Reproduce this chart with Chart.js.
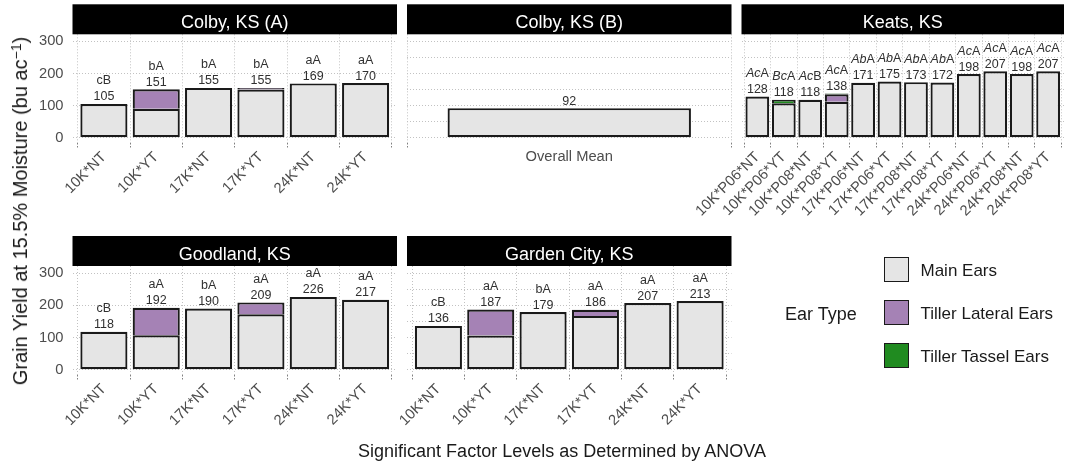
<!DOCTYPE html>
<html><head><meta charset="utf-8">
<script src="https://cdn.jsdelivr.net/npm/chart.js@4/dist/chart.umd.min.js"></script>
<style>
html,body{margin:0;padding:0;background:#fff;}
#wrap{position:relative;width:1065px;height:474px;overflow:hidden;font-family:'Liberation Sans',Arial,Helvetica,sans-serif;}
canvas{position:absolute;left:0;top:0;}
.t{position:absolute;white-space:nowrap;color:#1a1a1a;line-height:1;}
.key{position:absolute;width:23px;height:23px;border:1.5px solid #1a1a1a;}
sup{font-size:70%;vertical-align:0.45em;line-height:0;}
</style></head><body>
<div id="wrap">
<canvas id="cColbyA" width="1065" height="474"></canvas>
<canvas id="cColbyB" width="1065" height="474"></canvas>
<canvas id="cKeats" width="1065" height="474"></canvas>
<canvas id="cGoodland" width="1065" height="474"></canvas>
<canvas id="cGarden" width="1065" height="474"></canvas>
<div class="t" id="ytitle" style="left:20px;top:211px;font-size:20px;transform:translate(-50%,-50%) rotate(-90deg);">Grain Yield at 15.5% Moisture (bu ac<sup>−1</sup>)</div>
<div class="t" id="xtitle" style="left:562px;top:451px;font-size:18px;transform:translate(-50%,-50%);">Significant Factor Levels as Determined by ANOVA</div>
<div id="legend"></div>
</div>
<script>
// ---------- data ----------
const seriesNames = ['Main Ears', 'Tiller Lateral Ears', 'Tiller Tassel Ears'];
const legendTitle = 'Ear Type';

const cats6 = ['10K*NT', '10K*YT', '17K*NT', '17K*YT', '24K*NT', '24K*YT'];

const colbyA_main    = [105, 90, 155, 150, 169, 170];
const colbyA_lateral = [0, 61, 0, 5, 0, 0];
const colbyA_tassel  = [0, 0, 0, 0, 0, 0];
const colbyA_totals  = [105, 151, 155, 155, 169, 170];
const colbyA_letters = ['cB', 'bA', 'bA', 'bA', 'aA', 'aA'];

const colbyB_cats    = ['Overall Mean'];
const colbyB_main    = [92];
const colbyB_lateral = [0];
const colbyB_tassel  = [0];
const colbyB_totals  = [92];
const colbyB_letters = [''];

const keats_cats = ['10K*P06*NT', '10K*P06*YT', '10K*P08*NT', '10K*P08*YT',
                    '17K*P06*NT', '17K*P06*YT', '17K*P08*NT', '17K*P08*YT',
                    '24K*P06*NT', '24K*P06*YT', '24K*P08*NT', '24K*P08*YT'];
const keats_main    = [128, 107, 118, 112, 171, 175, 173, 172, 198, 207, 198, 207];
const keats_lateral = [0, 0, 0, 23, 0, 0, 0, 0, 0, 0, 0, 0];
const keats_tassel  = [0, 11, 0, 3, 0, 0, 0, 0, 0, 0, 0, 0];
const keats_totals  = [128, 118, 118, 138, 171, 175, 173, 172, 198, 207, 198, 207];
const keats_letters = ['AcA', 'BcA', 'AcB', 'AcA', 'AbA', 'AbA', 'AbA', 'AbA', 'AcA', 'AcA', 'AcA', 'AcA'];

const goodland_main    = [118, 107, 190, 172, 226, 217];
const goodland_lateral = [0, 85, 0, 37, 0, 0];
const goodland_tassel  = [0, 0, 0, 0, 0, 0];
const goodland_totals  = [118, 192, 190, 209, 226, 217];
const goodland_letters = ['cB', 'aA', 'bA', 'aA', 'aA', 'aA'];

const garden_main    = [136, 106, 179, 167, 207, 213];
const garden_lateral = [0, 81, 0, 19, 0, 0];
const garden_tassel  = [0, 0, 0, 0, 0, 0];
const garden_totals  = [136, 187, 179, 186, 207, 213];
const garden_letters = ['cB', 'aA', 'bA', 'aA', 'aA', 'aA'];

const yMajorTicks = [0, 100, 200, 300];
const yMinorTicks = [50, 150, 250];

// ---------- styles / layout ----------
const FONT = "'Liberation Sans', Arial, Helvetica, sans-serif";
const FILLS = ['#E5E5E5', '#A582B5', '#208B20'];
const EDGE = '#1a1a1a';
const GRID = '#c2c2c2';
const TICK = '#4d4d4d';
const BW = 2.2;
const COLS = [[72.5, 397], [407, 731.5], [741.5, 1064]];
const ROWS = [[34.3, 142.5], [266, 374.5]];
const Y_MIN = -15, Y_MAX = 322;
const STRIP_H = 30;

function drawLetters(ctx, s, x, y, nItalic) {
  const up = `12.5px ${FONT}`, it = `italic 12.5px ${FONT}`;
  if (!nItalic) { ctx.font = up; ctx.textAlign = 'center'; ctx.fillText(s, x, y); return; }
  const a = s.slice(0, nItalic), b = s.slice(nItalic);
  ctx.font = it; const w1 = ctx.measureText(a).width;
  ctx.font = up; const w2 = ctx.measureText(b).width;
  const x0 = x - (w1 + w2) / 2;
  ctx.textAlign = 'left';
  ctx.font = it; ctx.fillText(a, x0, y);
  ctx.font = up; ctx.fillText(b, x0 + w1, y);
}

const panelPlugin = {
  id: 'panel',
  afterDatasetsDraw(chart, args, o) {
    const ctx = chart.ctx, xs = chart.scales.x, ys = chart.scales.y;
    ctx.save();
    ctx.fillStyle = '#303030';
    ctx.textBaseline = 'alphabetic';
    o.totals.forEach((t, i) => {
      const x = xs.getPixelForValue(i + 1);
      const y = ys.getPixelForValue(t) - 3.5;
      ctx.font = `12.5px ${FONT}`;
      ctx.textAlign = 'center';
      ctx.fillText(String(t), x, y);
      if (o.letters[i]) drawLetters(ctx, o.letters[i], x, y - 16, o.nItalic);
    });
    ctx.restore();
  },
  afterDraw(chart, args, o) {
    const ctx = chart.ctx, {left, right, top} = chart.chartArea;
    ctx.save();
    ctx.fillStyle = '#000';
    ctx.fillRect(left, top - STRIP_H, right - left, STRIP_H);
    ctx.fillStyle = '#fff';
    ctx.font = `18px ${FONT}`;
    ctx.textAlign = 'center';
    ctx.textBaseline = 'alphabetic';
    ctx.fillText(o.title, (left + right) / 2, top - 6.5);
    ctx.restore();
  }
};

function makePanel(id, cfg) {
  const n = cfg.categories.length;
  const [L, R] = COLS[cfg.col];
  const [T, B] = ROWS[cfg.row];
  const yW = cfg.col === 0 ? 45 : 0;
  const xH = 90;
  const series = [cfg.main, cfg.lateral, cfg.tassel];
  const datasets = series.map((arr, k) => ({
    label: seriesNames[k],
    backgroundColor: FILLS[k],
    borderColor: EDGE,
    borderWidth: k === 0 ? BW : {top: BW, left: BW, right: BW, bottom: 0},
    borderSkipped: false,
    categoryPercentage: 1,
    barPercentage: n === 1 ? 0.75 : 0.9,
    data: arr.map((v, i) => ({x: i + 1, y: v ? v : null}))
  }));
  const tickFont = {family: FONT, size: 14.7};
  return new Chart(document.getElementById(id), {
    type: 'bar',
    data: {datasets},
    options: {
      responsive: false, animation: false, devicePixelRatio: 1,
      layout: {padding: {left: L - yW, right: 1065 - R, top: T, bottom: 474 - B - xH}},
      scales: {
        x: {
          type: 'linear', stacked: true, min: 0.4, max: n + 0.6, offset: false,
          afterBuildTicks: s => { s.ticks = cfg.categories.map((c, i) => ({value: i + 1})); },
          afterFit: s => { s.height = xH; },
          grid: {color: GRID, lineWidth: 1, drawTicks: true, tickLength: 5, tickColor: '#808080',
                 tickWidth: 1, tickBorderDash: [1.5, 1.5]},
          border: {display: false, dash: [1, 2]},
          ticks: {autoSkip: false, minRotation: cfg.rot, maxRotation: cfg.rot, padding: 1,
                  color: TICK, font: tickFont, callback: (v, i) => cfg.categories[i]}
        },
        y: {
          type: 'linear', stacked: true, min: Y_MIN, max: Y_MAX,
          afterBuildTicks: s => {
            s.ticks = yMajorTicks.concat(yMinorTicks).sort((a, b) => a - b).map(v => ({value: v}));
          },
          afterFit: s => { s.width = yW; },
          grid: {color: GRID, lineWidth: 1, drawTicks: false},
          border: {display: false, dash: [1, 2]},
          ticks: {display: cfg.col === 0, padding: 9, color: TICK, font: tickFont,
                  callback: v => yMajorTicks.includes(v) ? String(v) : ''}
        }
      },
      plugins: {
        legend: {display: false},
        tooltip: {enabled: false},
        panel: {title: cfg.title, totals: cfg.totals, letters: cfg.letters, nItalic: cfg.nItalic || 0}
      }
    },
    plugins: [panelPlugin]
  });
}

makePanel('cColbyA', {title: 'Colby, KS (A)', col: 0, row: 0, rot: 45, categories: cats6,
  main: colbyA_main, lateral: colbyA_lateral, tassel: colbyA_tassel, totals: colbyA_totals, letters: colbyA_letters});
makePanel('cColbyB', {title: 'Colby, KS (B)', col: 1, row: 0, rot: 0, categories: colbyB_cats,
  main: colbyB_main, lateral: colbyB_lateral, tassel: colbyB_tassel, totals: colbyB_totals, letters: colbyB_letters});
makePanel('cKeats', {title: 'Keats, KS', col: 2, row: 0, rot: 45, categories: keats_cats, nItalic: 2,
  main: keats_main, lateral: keats_lateral, tassel: keats_tassel, totals: keats_totals, letters: keats_letters});
makePanel('cGoodland', {title: 'Goodland, KS', col: 0, row: 1, rot: 45, categories: cats6,
  main: goodland_main, lateral: goodland_lateral, tassel: goodland_tassel, totals: goodland_totals, letters: goodland_letters});
makePanel('cGarden', {title: 'Garden City, KS', col: 1, row: 1, rot: 45, categories: cats6,
  main: garden_main, lateral: garden_lateral, tassel: garden_tassel, totals: garden_totals, letters: garden_letters});

// ---------- legend ----------
(function () {
  const lg = document.getElementById('legend');
  const title = document.createElement('div');
  title.className = 't';
  title.style.cssText = 'left:785px;top:313.5px;font-size:18px;transform:translateY(-50%);';
  title.textContent = legendTitle;
  lg.appendChild(title);
  seriesNames.forEach((name, k) => {
    const cy = 270 + k * 43;
    const key = document.createElement('div');
    key.className = 'key';
    key.style.left = '884px';
    key.style.top = (cy - 13) + 'px';
    key.style.background = FILLS[k];
    lg.appendChild(key);
    const lab = document.createElement('div');
    lab.className = 't';
    lab.style.cssText = `left:920.5px;top:${cy}px;font-size:17px;transform:translateY(-50%);`;
    lab.textContent = name;
    lg.appendChild(lab);
  });
})();
</script>
</body></html>
